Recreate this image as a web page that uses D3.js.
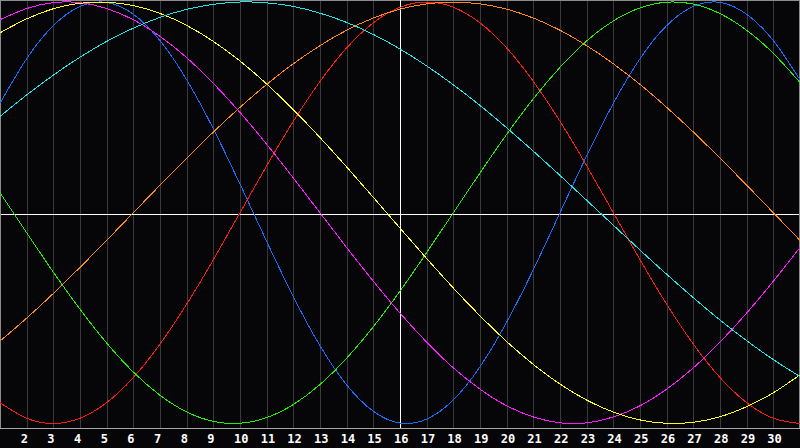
<!DOCTYPE html>
<html>
<head>
    <meta charset="UTF-8">
    <title>Biorhythm</title>
    <script src="https://d3js.org/d3.v7.min.js"></script>
    <style>
        body { margin: 0; background: #060609; }
        svg { display: block; }
        .grid line { stroke: #3a3a3a; stroke-width: 1px; shape-rendering: crispEdges; }
        .frame { fill: none; stroke: #8c8c8c; stroke-width: 1px; shape-rendering: crispEdges; }
        .axis-line { stroke: #a8a8a8; stroke-width: 1px; shape-rendering: crispEdges; }
        .cross { stroke: #ffffff; stroke-width: 1px; shape-rendering: crispEdges; }
        .cycle { fill: none; stroke-width: 1px; shape-rendering: crispEdges; }
        .day-label { font: bold 12px "DejaVu Sans Mono", monospace; fill: #ffffff; }
    </style>
</head>
<body>
<div id="chart"></div>
<script>
    // days shown on the chart (1..31), today = 16
    const days = d3.range(1, 32);
    const today = 16;

    // cycle values in percent, one per day
    const physical     = [51.9, 73.1, 88.8, 97.9, 99.8, 94.2, 81.7, 63.1, 39.8, 13.6, -13.6, -39.8, -63.1, -81.7, -94.2, -99.8, -97.9, -88.8, -73.1, -51.9, -27.0, 0, 27.0, 51.9, 73.1, 88.8, 97.9, 99.8, 94.2, 81.7, 63.1];
    const emotional    = [-90.1, -97.5, -100, -97.5, -90.1, -78.2, -62.3, -43.4, -22.3, 0, 22.3, 43.4, 62.3, 78.2, 90.1, 97.5, 100, 97.5, 90.1, 78.2, 62.3, 43.4, 22.3, 0, -22.3, -43.4, -62.3, -78.2, -90.1, -97.5, -100];
    const intellectual = [9.5, -9.5, -28.2, -45.8, -61.8, -75.6, -86.6, -94.5, -99.0, -99.9, -97.2, -91.0, -81.5, -69.0, -54.1, -37.2, -18.9, 0, 18.9, 37.2, 54.1, 69.0, 81.5, 91.0, 97.2, 99.9, 99.0, 94.5, 86.6, 75.6, 61.8];
    const intuitive    = [91.6, 96.9, 99.7, 99.7, 96.9, 91.6, 83.7, 73.6, 61.4, 47.6, 32.5, 16.5, 0, -16.5, -32.5, -47.6, -61.4, -73.6, -83.7, -91.6, -96.9, -99.7, -99.7, -96.9, -91.6, -83.7, -73.6, -61.4, -47.6, -32.5, -16.5];
    const aesthetic    = [85.4, 92.0, 96.8, 99.4, 99.9, 98.3, 94.6, 88.9, 81.3, 72.0, 61.1, 48.9, 35.7, 21.7, 7.3, -7.3, -21.7, -35.7, -48.9, -61.1, -72.0, -81.3, -88.9, -94.6, -98.3, -99.9, -99.4, -96.8, -92.0, -85.4, -76.9];
    const awareness    = [-60.9, -50.0, -38.3, -25.9, -13.1, 0, 13.1, 25.9, 38.3, 50.0, 60.9, 70.7, 79.3, 86.6, 92.4, 96.6, 99.1, 100, 99.1, 96.6, 92.4, 86.6, 79.3, 70.7, 60.9, 50.0, 38.3, 25.9, 13.1, 0, -13.1];
    const spiritual    = [45.7, 55.9, 65.3, 73.8, 81.3, 87.6, 92.7, 96.5, 98.9, 100.0, 99.6, 97.9, 94.7, 90.3, 84.6, 77.7, 69.7, 60.7, 50.9, 40.3, 29.2, 17.7, 5.9, -5.9, -17.7, -29.2, -40.3, -50.9, -60.7, -69.7, -77.7];

    const seriesNames  = ["physical", "emotional", "intellectual", "intuitive", "aesthetic", "awareness", "spiritual"];
    const seriesValues = [physical, emotional, intellectual, intuitive, aesthetic, awareness, spiritual];
    const seriesColors = ["#1a6cff", "#ff1a1a", "#22f000", "#ff1aff", "#ffff1a", "#ff8a1a", "#1ae8e8"];

    const width = 800;
    const height = 448;
    const plotBottom = 428.5;

    const x = d3.scaleLinear().domain([1, 31]).range([0, 800]);
    const y = d3.scaleLinear().domain([-100, 100]).range([423.5, 2]);

    const svg = d3.select("#chart")
        .append("svg")
        .attr("width", width)
        .attr("height", height);

    svg.append("rect")
        .attr("width", width)
        .attr("height", height)
        .attr("fill", "#060609");

    // vertical day grid
    const gridDays = days.filter(d => d > 1 && d < 31);
    svg.append("g")
        .attr("class", "grid")
        .selectAll("line")
        .data(gridDays.filter(d => d !== today))
        .join("line")
        .attr("x1", d => Math.round(x(d)) + 0.5)
        .attr("x2", d => Math.round(x(d)) + 0.5)
        .attr("y1", 0)
        .attr("y2", plotBottom);

    // frame around plot
    svg.append("path")
        .attr("class", "frame")
        .attr("d", `M0.5,${plotBottom}V0.5H799.5V${plotBottom}`);

    svg.append("line")
        .attr("class", "axis-line")
        .attr("x1", 0)
        .attr("x2", width)
        .attr("y1", plotBottom)
        .attr("y2", plotBottom);

    // today + zero line
    svg.append("line")
        .attr("class", "cross")
        .attr("x1", Math.round(x(today)) + 0.5)
        .attr("x2", Math.round(x(today)) + 0.5)
        .attr("y1", 0)
        .attr("y2", plotBottom - 1);

    svg.append("line")
        .attr("class", "cross")
        .attr("x1", 1)
        .attr("x2", width - 1)
        .attr("y1", Math.round(y(0)) + 1.5)
        .attr("y2", Math.round(y(0)) + 1.5);

    const line = d3.line()
        .x((d, i) => x(days[i]))
        .y(d => y(d))
        .curve(d3.curveNatural);

    svg.append("g")
        .selectAll("path")
        .data(seriesValues)
        .join("path")
        .attr("class", (d, i) => "cycle " + seriesNames[i])
        .attr("stroke", (d, i) => seriesColors[i])
        .attr("d", line);

    // day labels
    svg.append("g")
        .selectAll("text")
        .data(gridDays)
        .join("text")
        .attr("class", "day-label")
        .attr("x", d => x(d) - 6)
        .attr("y", 443)
        .text(d => d);
</script>
</body>
</html>
